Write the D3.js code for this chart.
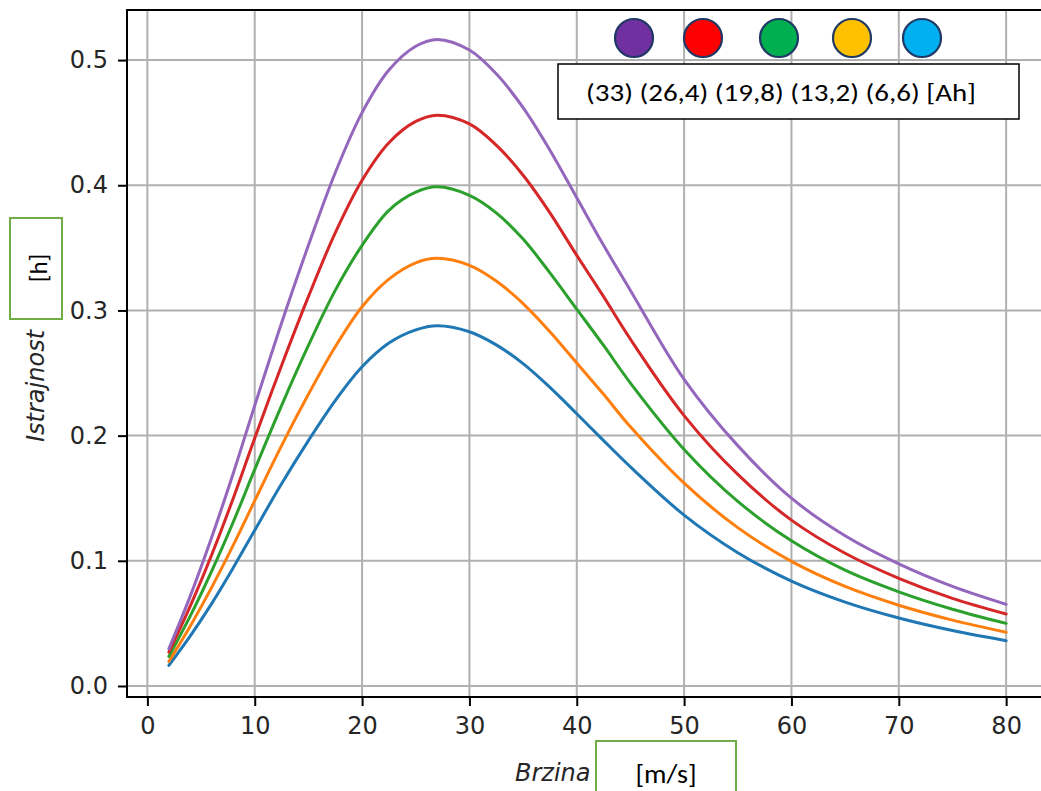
<!DOCTYPE html>
<html>
<head>
<meta charset="utf-8">
<script src="https://cdn.jsdelivr.net/npm/d3@7"></script>
<style>
    body { margin: 0; background: #fff; }
    #chart { display: block; }
</style>
</head>
<body>
<svg id="chart"></svg>
<script>
// speed [m/s]
var speeds = [2, 4, 6, 8, 10, 12.5, 15, 17.5, 20, 22.5, 25, 27, 30, 32.5, 35, 37.5, 40, 42.5, 45, 50, 55, 60, 65, 70, 75, 80];

// endurance [h] per battery capacity
var cap33  = [0.0297, 0.072, 0.119, 0.170, 0.224, 0.290, 0.352, 0.410, 0.458, 0.492, 0.511, 0.5165, 0.508, 0.489, 0.462, 0.428, 0.390, 0.352, 0.316, 0.245, 0.192, 0.150, 0.120, 0.0975, 0.0795, 0.0652];
var cap264 = [0.027, 0.064, 0.105, 0.150, 0.198, 0.256, 0.311, 0.362, 0.404, 0.434, 0.451, 0.456, 0.449, 0.432, 0.408, 0.378, 0.344, 0.311, 0.277, 0.216, 0.169, 0.1325, 0.106, 0.086, 0.070, 0.0575];
var cap198 = [0.0236, 0.056, 0.092, 0.131, 0.173, 0.224, 0.272, 0.316, 0.352, 0.380, 0.3945, 0.3988, 0.392, 0.378, 0.357, 0.330, 0.301, 0.272, 0.242, 0.189, 0.1475, 0.116, 0.0925, 0.0752, 0.0613, 0.050];
var cap132 = [0.0196, 0.048, 0.079, 0.1125, 0.148, 0.192, 0.233, 0.271, 0.303, 0.325, 0.338, 0.3416, 0.336, 0.3235, 0.3055, 0.283, 0.258, 0.233, 0.207, 0.162, 0.1265, 0.0995, 0.0795, 0.0645, 0.0526, 0.0429];
var cap66  = [0.0164, 0.040, 0.066, 0.0945, 0.1245, 0.1615, 0.196, 0.228, 0.255, 0.274, 0.2845, 0.2878, 0.283, 0.2725, 0.2575, 0.2385, 0.2175, 0.196, 0.175, 0.1365, 0.1065, 0.0838, 0.067, 0.0543, 0.0443, 0.0362];

var xTicks = [0, 10, 20, 30, 40, 50, 60, 70, 80];
var yTicks = [0.0, 0.1, 0.2, 0.3, 0.4, 0.5];

var legendText = "(33) (26,4) (19,8) (13,2) (6,6) [Ah]";
var legendColors = ["#7030A0", "#FF0000", "#00B050", "#FFC000", "#00B0F0"];

var W = 1041, H = 791;
var m = { left: 127, right: -7, top: 10, bottom: 94 };

var svg = d3.select("#chart")
    .attr("width", W)
    .attr("height", H);

var x = d3.scaleLinear()
    .domain([-1.9, 83.9])
    .range([m.left, W - m.right]);
var y = d3.scaleLinear()
    .domain([-0.0088, 0.540])
    .range([H - m.bottom, m.top]);

// grid
var grid = svg.append("g").attr("class", "grid");
grid.selectAll(".gx").data(xTicks).enter().append("line")
    .attr("x1", function (d) { return x(d); })
    .attr("x2", function (d) { return x(d); })
    .attr("y1", y.range()[0])
    .attr("y2", y.range()[1])
    .style("stroke", "#b0b0b0")
    .style("stroke-width", 2);
grid.selectAll(".gy").data(yTicks).enter().append("line")
    .attr("x1", x.range()[0])
    .attr("x2", x.range()[1])
    .attr("y1", function (d) { return y(d); })
    .attr("y2", function (d) { return y(d); })
    .style("stroke", "#b0b0b0")
    .style("stroke-width", 2);

var line = d3.line()
    .x(function (d) { return x(d[0]); })
    .y(function (d) { return y(d[1]); })
    .curve(d3.curveCatmullRom.alpha(0.5));

var series = [
    { vals: cap66, color: "#1f77b4" },
    { vals: cap132, color: "#ff7f0e" },
    { vals: cap198, color: "#2ca02c" },
    { vals: cap264, color: "#d62728" },
    { vals: cap33, color: "#9467bd" }
];

series.forEach(function (s) {
    var pts = speeds.map(function (v, i) { return [v, s.vals[i]]; });
    svg.append("path")
        .attr("d", line(pts))
        .style("fill", "none")
        .style("stroke", s.color)
        .style("stroke-width", 3)
        .style("stroke-linecap", "round");
});

// axes
var xAxis = d3.axisBottom(x).tickValues(xTicks).tickSize(9).tickPadding(11).tickFormat(d3.format("d"));
var yAxis = d3.axisLeft(y).tickValues(yTicks).tickSize(9).tickPadding(10).tickFormat(d3.format(".1f"));

var gX = svg.append("g")
    .attr("transform", "translate(0," + y.range()[0] + ")")
    .call(xAxis);
var gY = svg.append("g")
    .attr("transform", "translate(" + x.range()[0] + ",0)")
    .call(yAxis);

[gX, gY].forEach(function (g) {
    g.select(".domain").remove();
    g.selectAll(".tick line").style("stroke", "#000").style("stroke-width", 2);
    g.selectAll(".tick text")
        .style("font-family", "'DejaVu Sans', sans-serif")
        .style("font-size", "24px")
        .style("fill", "#262626");
});

// spines
svg.append("rect")
    .attr("x", x.range()[0])
    .attr("y", y.range()[1])
    .attr("width", x.range()[1] - x.range()[0])
    .attr("height", y.range()[0] - y.range()[1])
    .style("fill", "none")
    .style("stroke", "#000")
    .style("stroke-width", 2);

// axis labels
svg.append("text")
    .attr("transform", "translate(44,442) rotate(-90)")
    .style("font-family", "'DejaVu Sans', sans-serif")
    .style("font-style", "italic")
    .style("font-size", "24px")
    .style("fill", "#262626")
    .text("Istrajnost");

svg.append("text")
    .attr("x", 515)
    .attr("y", 781)
    .style("font-family", "'DejaVu Sans', sans-serif")
    .style("font-style", "italic")
    .style("font-size", "24px")
    .style("fill", "#262626")
    .text("Brzina");

// unit boxes pasted on top
svg.append("rect")
    .attr("x", 10).attr("y", 218).attr("width", 52).attr("height", 101)
    .style("fill", "#fff").style("stroke", "#70AD47").style("stroke-width", 2);
svg.append("text")
    .attr("transform", "translate(47,268) rotate(-90)")
    .attr("text-anchor", "middle")
    .style("font-family", "Carlito, Calibri, 'Liberation Sans', sans-serif")
    .style("font-size", "25px")
    .style("fill", "#000")
    .text("[h]");

svg.append("rect")
    .attr("x", 596).attr("y", 741).attr("width", 140).attr("height", 70)
    .style("fill", "#fff").style("stroke", "#70AD47").style("stroke-width", 2);
svg.append("text")
    .attr("x", 666)
    .attr("y", 783)
    .attr("text-anchor", "middle")
    .attr("textLength", 61)
    .attr("lengthAdjust", "spacingAndGlyphs")
    .style("font-family", "Carlito, Calibri, 'Liberation Sans', sans-serif")
    .style("font-size", "26px")
    .style("fill", "#000")
    .text("[m/s]");

// legend
svg.append("rect")
    .attr("x", 558).attr("y", 64).attr("width", 461).attr("height", 55)
    .style("fill", "#fff").style("stroke", "#000").style("stroke-width", 1.5);
svg.append("text")
    .attr("x", 586)
    .attr("y", 101)
    .attr("textLength", 390)
    .attr("lengthAdjust", "spacingAndGlyphs")
    .style("font-family", "Carlito, Calibri, 'Liberation Sans', sans-serif")
    .style("font-size", "25px")
    .style("fill", "#000")
    .text(legendText);

var dotX = [634, 703, 779, 852, 922];
svg.selectAll(".dot").data(legendColors).enter().append("circle")
    .attr("cx", function (d, i) { return dotX[i]; })
    .attr("cy", 38)
    .attr("r", 19)
    .style("fill", function (d) { return d; })
    .style("stroke", "#1F3864")
    .style("stroke-width", 2.2);
</script>
</body>
</html>
